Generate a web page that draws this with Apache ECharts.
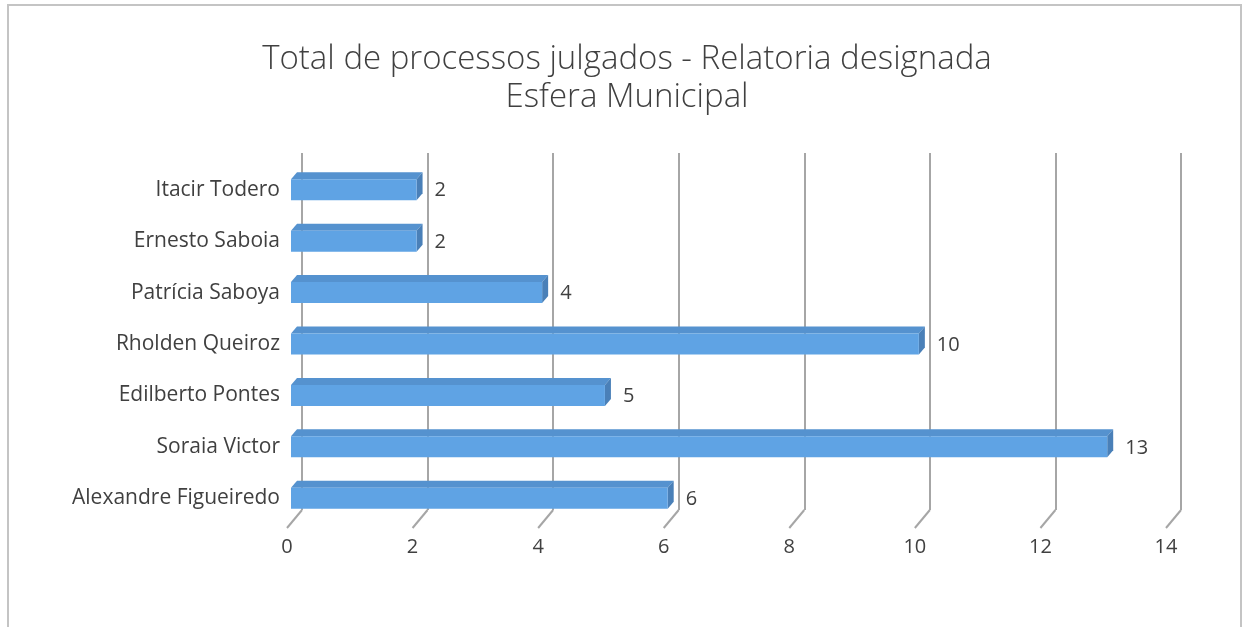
<!DOCTYPE html>
<html>
<head>
<meta charset="utf-8">
<script src="https://cdn.jsdelivr.net/npm/echarts@6/dist/echarts.min.js"></script>
<style>
  html, body { margin: 0; padding: 0; background: #fff; }
  #chart { width: 1242px; height: 627px; }
</style>
</head>
<body>
<div id="chart"></div>
<script>
// Relatores (top to bottom) and number of judged cases
const categories = [
  'Itacir Todero',
  'Ernesto Saboia',
  'Patrícia Saboya',
  'Rholden Queiroz',
  'Edilberto Pontes',
  'Soraia Victor',
  'Alexandre Figueiredo'
];
const values = [2, 2, 4, 10, 5, 13, 6];
const xTicks = [0, 2, 4, 6, 8, 10, 12, 14];

const FONT = '"Open Sans", Lato, sans-serif';
const TEXT = '#404040';
const GRID_COLOR = '#a6a6a6';

// depth offsets of the pseudo-3D scene
const FLOOR_DX = -15, FLOOR_DY = 18;   // back wall -> front edge of the floor
const BAR_FRONT_DX = -11;              // bar front face relative to back wall
const BAR_DX = 6, BAR_DY = -7;         // bar depth (front face -> back face)
const BAR_H = 21;                      // height of a bar's front face

const chart = echarts.init(document.getElementById('chart'));

chart.setOption({
  backgroundColor: '#ffffff',
  animation: false,
  title: {
    text: 'Total de processos julgados - Relatoria designada\nEsfera Municipal',
    left: 622,
    top: 36,
    textAlign: 'center',
    textStyle: {
      fontFamily: FONT,
      fontWeight: 300,
      fontSize: 33,
      lineHeight: 38,
      color: TEXT
    }
  },
  graphic: [{
    type: 'rect',
    shape: { x: 8, y: 5, width: 1233, height: 700 },
    style: { fill: 'none', stroke: '#c4c4c4', lineWidth: 2 },
    silent: true,
    z: -1
  }],
  grid: [
    // back wall
    { left: 302, right: 61, top: 153, bottom: 117 },
    // bar rows
    { left: 302, right: 61, top: 164, height: 360 }
  ],
  xAxis: [
    {
      gridIndex: 0, type: 'value', min: 0, max: 14, interval: 2,
      axisLine: { show: false }, axisTick: { show: false },
      splitLine: { show: true, lineStyle: { color: GRID_COLOR, width: 2 } },
      axisLabel: {
        fontFamily: FONT, fontSize: 20, color: TEXT, margin: 27,
        padding: [0, 30, 0, 0]
      }
    },
    {
      gridIndex: 1, type: 'value', min: 0, max: 14, interval: 2,
      show: false, splitLine: { show: false }
    }
  ],
  yAxis: [
    {
      gridIndex: 0, type: 'value', min: 0, max: 1, show: false,
      splitLine: { show: false }
    },
    {
      gridIndex: 1, type: 'category', data: categories, inverse: true,
      axisLine: { show: false }, axisTick: { show: false },
      axisLabel: {
        fontFamily: FONT, fontSize: 21, color: TEXT, margin: 22,
        padding: [5, 0, 0, 0]
      }
    }
  ],
  series: [
    {
      // floor part of the gridlines
      type: 'custom',
      xAxisIndex: 0, yAxisIndex: 0,
      data: xTicks.map(v => [v]),
      renderItem: function (params, api) {
        const p = api.coord([api.value(0), 0]);
        return {
          type: 'line',
          shape: { x1: p[0], y1: p[1], x2: p[0] + FLOOR_DX, y2: p[1] + FLOOR_DY },
          style: { stroke: GRID_COLOR, lineWidth: 2 }
        };
      },
      silent: true,
      z: 1
    },
    {
      // 3D bars with value labels
      type: 'custom',
      xAxisIndex: 1, yAxisIndex: 1,
      data: values.map((v, i) => [v, i]),
      renderItem: function (params, api) {
        const v = api.value(0);
        const idx = api.value(1);
        const p0 = api.coord([0, idx]);
        const p1 = api.coord([v, idx]);
        const xl = p0[0] + BAR_FRONT_DX;
        const xr = p1[0] + BAR_FRONT_DX;
        const yt = p1[1] - BAR_H / 2;
        const yb = p1[1] + BAR_H / 2;
        return {
          type: 'group',
          children: [
            {
              type: 'polygon',
              shape: { points: [[xl, yt], [xr, yt], [xr + BAR_DX, yt + BAR_DY], [xl + BAR_DX, yt + BAR_DY]] },
              style: { fill: '#5592cf' }
            },
            {
              type: 'polygon',
              shape: { points: [[xr, yt], [xr + BAR_DX, yt + BAR_DY], [xr + BAR_DX, yb + BAR_DY], [xr, yb]] },
              style: { fill: '#4a80b8' }
            },
            {
              type: 'rect',
              shape: { x: xl, y: yt, width: xr - xl, height: BAR_H },
              style: { fill: '#5fa3e4' }
            },
            {
              type: 'text',
              x: xr + BAR_DX + 12,
              y: p1[1] + 1,
              style: {
                text: String(v),
                fontFamily: FONT, fontSize: 20, fill: TEXT,
                verticalAlign: 'middle', align: 'left'
              }
            }
          ]
        };
      },
      z: 3
    }
  ]
});
</script>
</body>
</html>
